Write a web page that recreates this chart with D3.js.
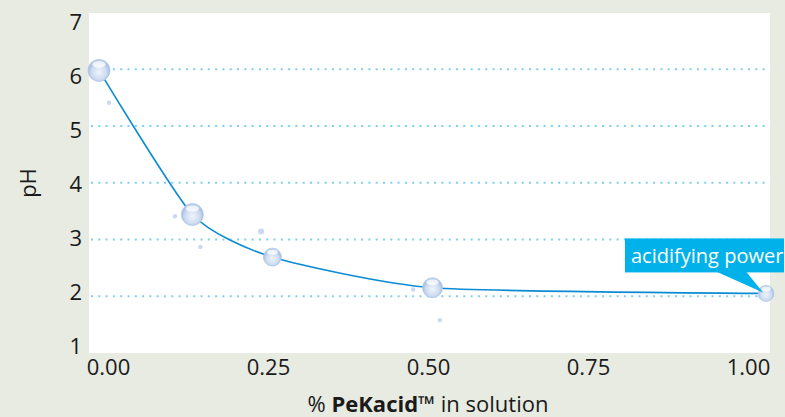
<!DOCTYPE html>
<html>
<head>
<meta charset="utf-8">
<script src="https://cdn.jsdelivr.net/npm/d3@7"></script>
<style>
  body { margin: 0; background: #e7ebe1; }
  svg { display: block; font-family: "Open Sans", sans-serif; }
</style>
</head>
<body>
<svg id="chart" width="785" height="417"></svg>
<script>
// measured points: % PeKacid in solution vs pH
var concentration = [0, 0.14, 0.26, 0.5, 1.0];
var phValues = [5.98, 3.44, 2.69, 2.15, 2.05];

// small decorative droplets around the curve
var dropX = [0.015, 0.114, 0.152, 0.243, 0.471, 0.511];
var dropY = [5.41, 3.41, 2.87, 3.14, 2.12, 1.58];

var xTicks = [0, 0.25, 0.5, 0.75, 1.0];
var yTicks = [1, 2, 3, 4, 5, 6, 7];
var gridValues = [2, 3, 4, 5, 6];

var bubbleR = [11, 11, 9, 10, 8];

var svg = d3.select("#chart");

// plot frame
var plotL = 89, plotR = 770, plotT = 13, plotB = 353;

var x = d3.scaleLinear().domain([0, 1]).range([99, 766]);
var y = d3.scaleLinear().domain([1, 7]).range([plotB, 12.5]);

// the printed tick labels sit a little off the data grid
var xLab = d3.scaleLinear().domain([0, 1]).range([108, 748]);
var yLab = d3.scaleLinear().domain([1, 7]).range([346, 22]);

svg.append("rect")
  .attr("x", plotL).attr("y", plotT)
  .attr("width", plotR - plotL).attr("height", plotB - plotT)
  .attr("fill", "#fff");

var defs = svg.append("defs");
var grad = defs.append("radialGradient")
  .attr("id", "drop")
  .attr("cx", "50%").attr("cy", "58%").attr("r", "55%");
grad.append("stop").attr("offset", "0%").attr("stop-color", "#eef4fb");
grad.append("stop").attr("offset", "60%").attr("stop-color", "#cfddf1");
grad.append("stop").attr("offset", "88%").attr("stop-color", "#a9c1e5");
grad.append("stop").attr("offset", "100%").attr("stop-color", "#bccfeb");

// dotted gridlines
svg.selectAll(".grid")
  .data(gridValues)
  .join("line")
  .attr("class", "grid")
  .attr("x1", plotL + 2).attr("x2", plotR)
  .attr("y1", function (d) { return y(d); })
  .attr("y2", function (d) { return y(d); })
  .attr("stroke", "#7dd0f0")
  .attr("stroke-width", 2)
  .attr("stroke-dasharray", "2,5.3");

// axes (labels only)
var xAxis = svg.append("g")
  .attr("transform", "translate(0," + 366 + ")")
  .call(d3.axisBottom(xLab).tickValues(xTicks).tickFormat(d3.format(".2f")).tickSize(0));
var yAxis = svg.append("g")
  .attr("transform", "translate(" + 82 + ",0)")
  .call(d3.axisLeft(yLab).tickValues(yTicks).tickFormat(d3.format("d")).tickSize(0).tickPadding(0));

[xAxis, yAxis].forEach(function (g) {
  g.select(".domain").remove();
  g.selectAll("text")
    .attr("fill", "#1a1a1a")
    .style("font-size", "22px")
    .style("font-family", "'Open Sans', sans-serif");
});
xAxis.selectAll("text").attr("dy", null).attr("y", 0).attr("dominant-baseline", "central");

// droplets
svg.selectAll(".speck")
  .data(dropX.map(function (d, i) { return { x: d, y: dropY[i] }; }))
  .join("circle")
  .attr("class", "speck")
  .attr("cx", function (d) { return x(d.x); })
  .attr("cy", function (d) { return y(d.y); })
  .attr("r", function (d, i) { return i == 3 ? 3 : 2.2; })
  .attr("fill", "#cbd8ef");

var points = concentration.map(function (d, i) { return { x: d, y: phValues[i] }; });

var line = d3.line()
  .x(function (d) { return x(d.x); })
  .y(function (d) { return y(d.y); })
  .curve(d3.curveCardinal.tension(0.4));

svg.append("path")
  .datum(points)
  .attr("d", line)
  .attr("fill", "none")
  .attr("stroke", "#0b8bd3")
  .attr("stroke-width", 1.6);

var bubbles = svg.selectAll(".bubble")
  .data(points)
  .join("g")
  .attr("class", "bubble")
  .attr("transform", function (d) { return "translate(" + x(d.x) + "," + y(d.y) + ")"; });

bubbles.append("circle")
  .attr("r", function (d, i) { return bubbleR[i]; })
  .attr("fill", "url(#drop)")
  .attr("stroke", "#b3c8e8")
  .attr("stroke-width", 0.8);

// glossy highlight on each drop
bubbles.append("ellipse")
  .attr("cy", function (d, i) { return -bubbleR[i] * 0.55; })
  .attr("rx", function (d, i) { return bubbleR[i] * 0.6; })
  .attr("ry", function (d, i) { return bubbleR[i] * 0.3; })
  .attr("fill", "#fff")
  .attr("opacity", 0.75);

// callout on the last point
var last = points[points.length - 1];
var px = x(last.x), py = y(last.y);
var callout = svg.append("g");
callout.append("path")
  .attr("d", "M" + (px - 50) + "," + (py - 22) + "L" + (px - 20) + "," + (py - 22) + "L" + (px - 3) + "," + (py - 1) + "Z")
  .attr("fill", "#00b1ea");
callout.append("rect")
  .attr("x", px - 141).attr("y", py - 55)
  .attr("width", 159).attr("height", 34)
  .attr("fill", "#00b1ea");
callout.append("text")
  .attr("x", px - 135).attr("y", py - 30)
  .attr("fill", "#fff")
  .style("font-size", "20px")
  .text("acidifying power");

// axis titles
var xTitle = svg.append("text")
  .attr("x", xLab(0.5)).attr("y", 412)
  .attr("text-anchor", "middle")
  .attr("fill", "#1a1a1a")
  .style("font-size", "22px");
xTitle.append("tspan").text("% ");
xTitle.append("tspan").attr("font-weight", "bold").text("PeKacid™");
xTitle.append("tspan").text(" in solution");

svg.append("text")
  .attr("transform", "translate(36,183) rotate(-90)")
  .attr("text-anchor", "middle")
  .attr("fill", "#1a1a1a")
  .style("font-size", "22px")
  .text("pH");
</script>
</body>
</html>
